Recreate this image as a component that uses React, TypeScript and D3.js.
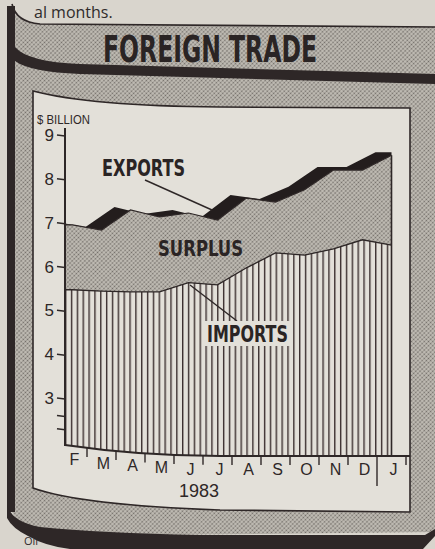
import React, { useEffect, useRef } from 'react'
import * as d3 from 'd3'

// Feb 1983 .. Jan 1984, $ billion
const months = ['F', 'M', 'A', 'M', 'J', 'J', 'A', 'S', 'O', 'N', 'D', 'J']
const exportsVal = [6.95, 6.83, 7.29, 7.13, 7.22, 7.06, 7.56, 7.47, 7.75, 8.2, 8.2, 8.54]
const importsVal = [5.47, 5.44, 5.42, 5.42, 5.63, 5.58, 5.97, 6.31, 6.26, 6.4, 6.61, 6.49]
const yTicks = [3, 4, 5, 6, 7, 8, 9]
const breakTicks = [2.6, 2.3]
const yearLabel = '1983'

const ink = '#2e2727'
const paper = '#e3e0d9'
const condensed = '"DejaVu Sans Condensed", "DejaVu Sans", sans-serif'
const plain = '"Liberation Sans", Arimo, sans-serif'

export default function App() {
  const ref = useRef<SVGSVGElement>(null)

  useEffect(() => {
    const svg = d3.select(ref.current)
    svg.selectAll('*').remove()

    // patterns: halftone grey and the vertical hatching of imports
    const defs = svg.append('defs')
    const dots = defs.append('pattern')
      .attr('id', 'dots').attr('width', 3).attr('height', 3)
      .attr('patternUnits', 'userSpaceOnUse')
      .attr('patternTransform', 'rotate(45)')
    dots.append('rect').attr('width', 3).attr('height', 3).attr('fill', '#c3bfb7')
    dots.append('circle').attr('cx', 1.5).attr('cy', 1.5).attr('r', 0.9).attr('fill', '#726d68')

    const hatch = defs.append('pattern')
      .attr('id', 'hatch').attr('width', 5.85).attr('height', 10)
      .attr('x', 65).attr('patternUnits', 'userSpaceOnUse')
    hatch.append('rect').attr('width', 5.85).attr('height', 10).attr('fill', paper)
    hatch.append('rect').attr('width', 1.4).attr('height', 10).attr('fill', '#3b2f2f')

    defs.append('clipPath').attr('id', 'plot')
      .append('path').attr('d', 'M65,100 L410,100 L410,456 L220,456 Q140,456 65,445 Z')

    // page + frame
    svg.append('rect').attr('width', 435).attr('height', 549).attr('fill', '#d9d5cd')
    svg.append('text').attr('x', 34).attr('y', 18).text('al months.')
      .style('font-family', '"Open Sans", sans-serif').style('font-size', '16px').attr('fill', '#2f2b2b')

    svg.append('path')
      .attr('d', 'M12,8 Q16,22 40,24 L435,27 L435,532 L60,536 Q20,530 12,512 Z')
      .attr('fill', 'url(#dots)')
    svg.append('path').attr('d', 'M12,4 Q16,22 40,24 L435,27')
      .attr('fill', 'none').attr('stroke', ink).attr('stroke-width', 1.6)
    svg.append('rect').attr('x', 7).attr('y', 6).attr('width', 8).attr('height', 506).attr('fill', ink)
    svg.append('path')
      .attr('d', 'M7,505 Q12,522 40,527 Q100,533 200,535 L425,535 L435,529 L435,536 L423,549 L70,549 Q45,546 28,536 Q12,528 7,518 Z')
      .attr('fill', ink)
    svg.append('text').attr('x', 24).attr('y', 545).text('Oil')
      .style('font-family', '"Open Sans", sans-serif').style('font-size', '11px').attr('fill', '#2f2b2b')
    svg.append('path')
      .attr('d', 'M15,47 Q28,62 80,64 L435,74 L435,84 L80,74 Q30,72 15,61 Z')
      .attr('fill', ink)

    svg.append('text').attr('x', 103).attr('y', 62).text('FOREIGN TRADE')
      .attr('textLength', 214).attr('lengthAdjust', 'spacingAndGlyphs')
      .style('font-family', condensed).style('font-weight', 'bold').style('font-size', '38px')
      .attr('fill', '#2a2424')

    svg.append('path')
      .attr('d', 'M33,91 Q90,106 220,107 L410,108 L410,512 L220,510 Q80,505 33,488 Z')
      .attr('fill', paper).attr('stroke', ink).attr('stroke-width', 1.6)

    // scales
    var x = d3.scaleBand<number>().domain(d3.range(months.length)).range([58, 406])
    var cx = (i: number) => (x(i) as number) + x.bandwidth() / 2
    var y = d3.scaleLinear().domain([3, 9]).range([398, 135])
    var baseY = (px: number) => px >= 220 ? 456 : 456 - 11 * Math.pow((220 - px) / 155, 2)

    var exPts: [number, number][] = [[65, y(exportsVal[0])]].concat(
      exportsVal.map((v, i) => [cx(i), y(v)])) as [number, number][]
    var imPts: [number, number][] = [[65, y(importsVal[0])]].concat(
      importsVal.map((v, i) => [cx(i), y(v)])) as [number, number][]
    var lastX = cx(months.length - 1)

    const plot = svg.append('g').attr('clip-path', 'url(#plot)')

    // dark 3-D edge: the exports line pushed back (left and up)
    var back: [number, number][] = exPts.map(p => [p[0] - 16, p[1] - 3] as [number, number])
    back.push([lastX, back[back.length - 1][1]])
    plot.append('path')
      .datum(back)
      .attr('d', d3.area<[number, number]>().x(d => d[0]).y0(460).y1(d => d[1]))
      .attr('fill', '#231d1d')

    // surplus
    plot.append('path')
      .datum(exPts.map((p, i) => [p[0], p[1], imPts[i][1]]))
      .attr('d', d3.area<number[]>().x(d => d[0]).y0(d => d[2]).y1(d => d[1]))
      .attr('fill', 'url(#dots)')

    // imports
    plot.append('path')
      .datum(imPts)
      .attr('d', d3.area<[number, number]>().x(d => d[0]).y0(460).y1(d => d[1]))
      .attr('fill', 'url(#hatch)')

    var line = d3.line<[number, number]>().x(d => d[0]).y(d => d[1])
    plot.append('path').datum(exPts).attr('d', line)
      .attr('fill', 'none').attr('stroke', ink).attr('stroke-width', 1.2)
    plot.append('path').datum(imPts).attr('d', line)
      .attr('fill', 'none').attr('stroke', ink).attr('stroke-width', 1.3)
    svg.append('line')
      .attr('x1', lastX).attr('x2', lastX)
      .attr('y1', y(exportsVal[exportsVal.length - 1])).attr('y2', 456)
      .attr('stroke', ink).attr('stroke-width', 1.6)

    // y axis
    svg.append('line').attr('x1', 65).attr('x2', 65).attr('y1', 128).attr('y2', 446)
      .attr('stroke', ink).attr('stroke-width', 2)
    svg.selectAll('.ytick')
      .data(yTicks.concat(breakTicks))
      .enter().append('line')
      .attr('x1', 57).attr('x2', 65)
      .attr('y1', d => y(d)).attr('y2', d => y(d) + 1)
      .attr('stroke', ink).attr('stroke-width', 1.5)
    svg.selectAll('.ylab')
      .data(yTicks)
      .enter().append('text')
      .attr('x', 54).attr('y', d => y(d) + 6)
      .attr('text-anchor', 'end')
      .text(d => d)
      .style('font-family', plain).style('font-size', '17px').attr('fill', ink)
    svg.append('text').attr('x', 37).attr('y', 124).text('$ BILLION')
      .attr('textLength', 53).attr('lengthAdjust', 'spacingAndGlyphs')
      .style('font-family', plain).style('font-size', '13px').attr('fill', ink)

    // x axis
    svg.append('path').attr('d', 'M65,445 Q140,456 220,456 L410,456')
      .attr('fill', 'none').attr('stroke', ink).attr('stroke-width', 1.8)
    var bounds = d3.range(1, months.length + 1).map(i => i < months.length ? (x(i) as number) : 406)
    svg.selectAll('.xtick')
      .data(bounds)
      .enter().append('line')
      .attr('x1', d => d).attr('x2', d => d)
      .attr('y1', d => baseY(d)).attr('y2', (d, i) => i === months.length - 2 ? 486 : baseY(d) + 9)
      .attr('stroke', ink).attr('stroke-width', 1.4)
    svg.selectAll('.xlab')
      .data(months)
      .enter().append('text')
      .attr('x', (d, i) => cx(i) + 2)
      .attr('y', (d, i) => baseY(cx(i)) + 19)
      .attr('text-anchor', 'middle')
      .text(d => d)
      .style('font-family', plain).style('font-size', '16px').attr('fill', ink)
    svg.append('text').attr('x', 199).attr('y', 497).attr('text-anchor', 'middle').text(yearLabel)
      .style('font-family', plain).style('font-size', '18px').attr('fill', ink)

    // labels and leaders
    svg.append('line').attr('x1', 145).attr('y1', 180).attr('x2', 212).attr('y2', 210)
      .attr('stroke', ink).attr('stroke-width', 1.4)
    svg.append('text').attr('x', 102).attr('y', 176).text('EXPORTS')
      .attr('textLength', 83).attr('lengthAdjust', 'spacingAndGlyphs')
      .style('font-family', condensed).style('font-weight', 'bold').style('font-size', '23px').attr('fill', '#2a2424')
    svg.append('text').attr('x', 158).attr('y', 256).text('SURPLUS')
      .attr('textLength', 85).attr('lengthAdjust', 'spacingAndGlyphs')
      .style('font-family', condensed).style('font-weight', 'bold').style('font-size', '21px').attr('fill', '#2a2424')
    svg.append('line').attr('x1', 190).attr('y1', 285).attr('x2', 237).attr('y2', 321)
      .attr('stroke', ink).attr('stroke-width', 1.4)
    svg.append('rect').attr('x', 203).attr('y', 321).attr('width', 90).attr('height', 25).attr('fill', paper)
    svg.append('text').attr('x', 207).attr('y', 342).text('IMPORTS')
      .attr('textLength', 81).attr('lengthAdjust', 'spacingAndGlyphs')
      .style('font-family', condensed).style('font-weight', 'bold').style('font-size', '23px').attr('fill', '#2a2424')
  }, [])

  return <svg ref={ref} width={435} height={549} style={{ position: 'absolute', left: 0, top: 0, display: 'block' }} />
}
